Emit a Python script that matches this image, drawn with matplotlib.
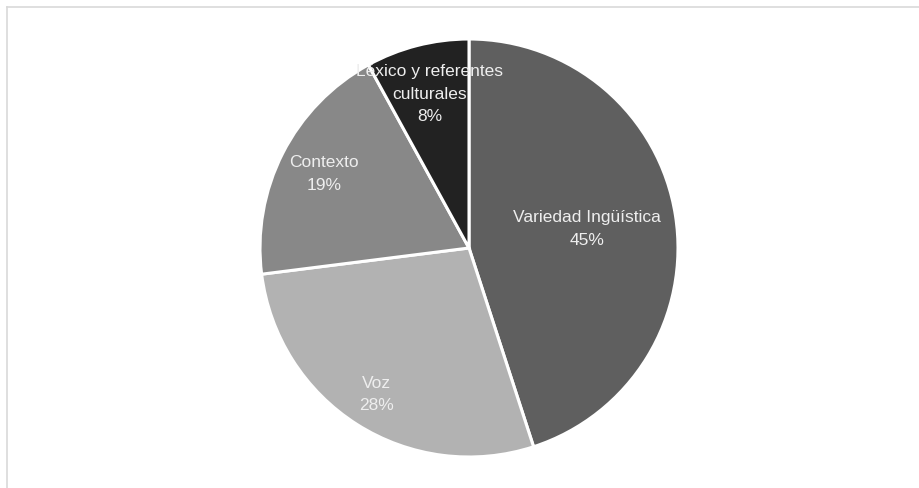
import matplotlib
matplotlib.use("Agg")
import matplotlib.pyplot as plt
import numpy as np
from matplotlib.lines import Line2D

categories = ["Variedad Ingüística", "Voz", "Contexto", "Léxico y referentes\nculturales"]
values = [45, 28, 19, 8]
colors = ["#5f5f5f", "#b2b2b2", "#888888", "#222222"]
label_dist = [0.57, 0.83, 0.78, 0.76]

W, H = 920, 488
fig = plt.figure(figsize=(W / 100, H / 100), dpi=100)
fig.patch.set_facecolor("white")

# border
fig.add_artist(Line2D([7 / W, 7 / W], [0, 1 - 7 / H], color="#d9d9d9", lw=1.2))
fig.add_artist(Line2D([7 / W, 1], [1 - 7 / H, 1 - 7 / H], color="#d9d9d9", lw=1.2))

cx, cy, r = 469, 248, 209
ax = fig.add_axes([(cx - r) / W, (H - cy - r) / H, 2 * r / W, 2 * r / H])
wedges, _ = ax.pie(values, colors=colors, startangle=90, counterclock=False,
                   wedgeprops=dict(edgecolor="white", linewidth=2.2))
ax.set_xlim(-1, 1)
ax.set_ylim(-1, 1)
ax.set_aspect("equal")
ax.axis("off")

for w, cat, v, d in zip(wedges, categories, values, label_dist):
    ang = np.deg2rad((w.theta1 + w.theta2) / 2)
    ax.text(d * np.cos(ang), d * np.sin(ang), f"{cat}\n{v}%", ha="center", va="center",
            color="#eeeeee", fontsize=12.5, family=["Liberation Sans", "DejaVu Sans"],
            linespacing=1.65)

fig.savefig("out.png", dpi=100)
